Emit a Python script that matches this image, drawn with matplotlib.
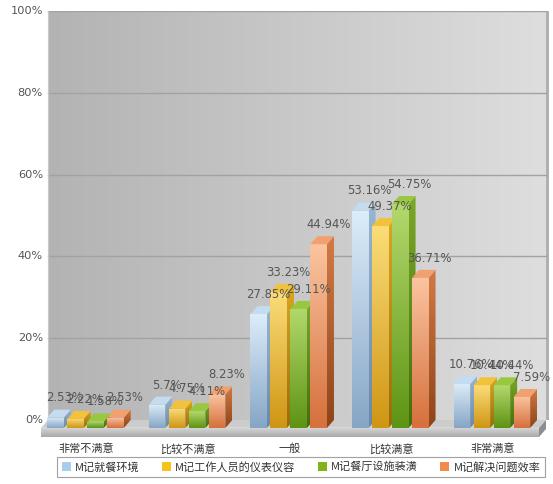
import numpy as np
import matplotlib
matplotlib.use('Agg')
import matplotlib.pyplot as plt
from matplotlib.patches import Polygon, Rectangle
from matplotlib.colors import LinearSegmentedColormap

plt.rcParams['font.family'] = ['DejaVu Sans', 'Noto Sans CJK SC']

# ---------------- data ----------------
categories = ['非常不满意', '比较不满意', '一般', '比较满意', '非常满意']
series_names = ['M记就餐环境', 'M记工作人员的仪表仪容', 'M记餐厅设施装潢', 'M记解决问题效率']
env = [2.53, 5.7, 27.85, 53.16, 10.76]
staff = [2.22, 4.75, 33.23, 49.37, 10.44]
facility = [1.58, 4.11, 29.11, 54.75, 10.44]
efficiency = [2.53, 8.23, 44.94, 36.71, 7.59]
yticks = [0, 20, 40, 60, 80, 100]
ytick_labels = ['0%', '20%', '40%', '60%', '80%', '100%']

series = [env, staff, facility, efficiency]
# (front top, front bottom, side top, side bottom, top face, legend)
colors = [
    ('#dcecf9', '#86a6c6', '#9ab6d0', '#6a88a8', '#c4dcf0', '#a9cdee'),
    ('#fbdc78', '#cf9614', '#d8a820', '#9a6c08', '#f2c23a', '#f5c31a'),
    ('#b2d86c', '#5e9414', '#7aa828', '#456e0c', '#98c840', '#80b41a'),
    ('#fac4a0', '#d6703c', '#d27a44', '#8e4418', '#f2a070', '#f3894a'),
]

# ---------------- geometry (pixel based) ----------------
W, H = 553, 484
cx0, step = 85.5, 101.6     # px of first category centre, px per category
ypx = 4.09                  # px per percent
y0px = 420                  # px of 0%
def px2x(p):
    return (p - cx0) / step
def py2y(p):
    return (y0px - p) / ypx

left_px, right_px, top_px, bot_px = 38, 552, 11, 440
fig = plt.figure(figsize=(W / 100, H / 100), dpi=100)
ax = fig.add_axes([left_px / W, (H - bot_px) / H, (right_px - left_px) / W, (bot_px - top_px) / H])
ax.set_xlim(px2x(left_px), px2x(right_px))
ax.set_ylim(py2y(bot_px), py2y(top_px))
ax.axis('off')

dx = 7 / step
dy = 8 / ypx
bw = 16.5 / step
pitch = 20 / step

wall_x0, wall_x1 = px2x(48), px2x(546)

# back wall gradient
bg = LinearSegmentedColormap.from_list('bg', ['#b3b3b3', '#dedede'])
ax.imshow(np.linspace(0, 1, 256).reshape(1, -1), extent=[wall_x0, wall_x1, 0, 100],
          cmap=bg, aspect='auto', zorder=0, interpolation='bilinear')
# right side wall strip
ax.add_patch(Polygon([(wall_x1, 0), (px2x(549), 0), (px2x(549), 100), (wall_x1, 100)],
                     closed=True, facecolor='#b0b0b0', edgecolor='none', zorder=0.5))
# gridlines
for t in yticks[1:]:
    ax.plot([wall_x0, wall_x1], [t, t], color='#a2a2a2', lw=1.0, zorder=1)
ax.plot([wall_x0, wall_x0], [0, 100], color='#c8c8c8', lw=0.8, zorder=1)

# floor
slab = 9 / ypx
ax.add_patch(Polygon([(wall_x0 - dx, -dy), (wall_x1 - dx, -dy), (wall_x1, 0), (wall_x0, 0)],
                     closed=True, facecolor='#cccccc', edgecolor='none', zorder=1.5))
fl = LinearSegmentedColormap.from_list('fl', ['#dadada', '#a8a8a8'])
ax.imshow(np.linspace(0, 1, 64).reshape(-1, 1), extent=[wall_x0 - dx, wall_x1 - dx, -dy - slab, -dy],
          cmap=fl, aspect='auto', zorder=1.5, interpolation='bilinear')
ax.add_patch(Polygon([(wall_x1 - dx, -dy), (wall_x1, 0), (wall_x1, -slab), (wall_x1 - dx, -dy - slab)],
                     closed=True, facecolor='#8e8e8e', edgecolor='none', zorder=1.5))

# y tick labels
for t, lab in zip(yticks, ytick_labels):
    ax.text(px2x(43), t, lab, ha='right', va='center', fontsize=8.2, color='#555555', zorder=5)

def grad_fill(verts, c_top, c_bot, z):
    poly = Polygon(verts, closed=True, facecolor='none', edgecolor='none', zorder=z)
    ax.add_patch(poly)
    xs = [v[0] for v in verts]
    ys = [v[1] for v in verts]
    cm = LinearSegmentedColormap.from_list('g', [c_top, c_bot])
    im = ax.imshow(np.linspace(0, 1, 64).reshape(-1, 1), extent=[min(xs), max(xs), min(ys), max(ys)],
                   cmap=cm, aspect='auto', zorder=z, interpolation='bilinear')
    im.set_clip_path(poly)

# bars
z = 2
for i in range(len(categories)):
    for j, vals in enumerate(series):
        v = vals[i]
        ft, fb, st, sb, tc, _ = colors[j]
        x0 = i + (j - 1.5) * pitch - bw / 2
        x1 = x0 + bw
        # side face
        grad_fill([(x1, -dy), (x1 + dx, 0), (x1 + dx, v), (x1, v - dy)], st, sb, z)
        # front face
        grad_fill([(x0, -dy), (x1, -dy), (x1, v - dy), (x0, v - dy)], ft, fb, z + 0.1)
        # top face
        ax.add_patch(Polygon([(x0, v - dy), (x1, v - dy), (x1 + dx, v), (x0 + dx, v)],
                             closed=True, facecolor=tc, edgecolor='none', zorder=z + 0.2))
        z += 0.5

# value labels
for i in range(len(categories)):
    for j, vals in enumerate(series):
        v = vals[i]
        xc = i + (j - 1.5) * pitch + dx + 2.5 / step
        ax.text(xc, v + 2.0, f'{v:g}%', ha='center', va='baseline', fontsize=8.4,
                color='#555555', zorder=50)

# category labels
for i, c in enumerate(categories):
    ax.text(i + 1 / step, py2y(449), c, ha='center', va='center', fontsize=8,
            color='#333333', family=['Noto Sans CJK SC', 'DejaVu Sans'], zorder=50)

# legend
handles = [Rectangle((0, 0), 1, 1, facecolor=c[5], edgecolor='none') for c in colors]
leg = fig.legend(handles, series_names, loc='center', ncol=4,
                 bbox_to_anchor=((57 + 545) / 2 / W, 1 - 467 / H),
                 frameon=True, fancybox=False, handlelength=0.8, handleheight=0.8,
                 handletextpad=0.4, columnspacing=2.0, borderpad=0.45,
                 prop={'family': ['Noto Sans CJK SC', 'DejaVu Sans'], 'size': 8})
leg.get_frame().set_edgecolor('#8a8a8a')
leg.get_frame().set_linewidth(0.8)
for t in leg.get_texts():
    t.set_color('#333333')

fig.savefig('out.png', dpi=100)
